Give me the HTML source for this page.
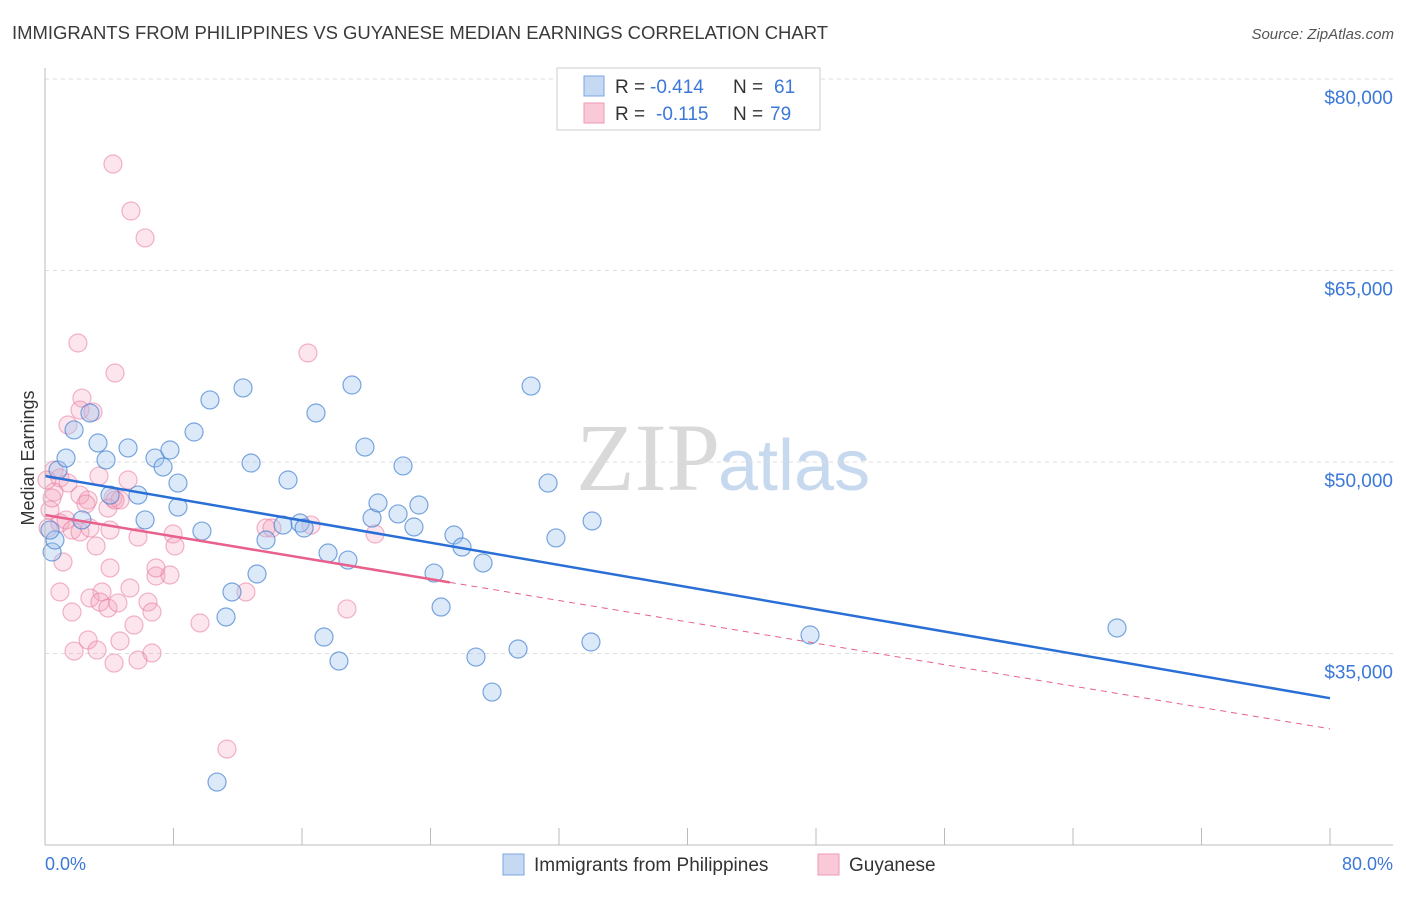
<!DOCTYPE html>
<html><head><meta charset="utf-8"><style>
body{margin:0;background:#fff;font-family:"Liberation Sans",sans-serif;}
</style></head><body>
<svg id="c" width="1406" height="892" xmlns="http://www.w3.org/2000/svg">
<text x="12" y="39" font-size="18.5" fill="#3a3a3a" textLength="816">IMMIGRANTS FROM PHILIPPINES VS GUYANESE MEDIAN EARNINGS CORRELATION CHART</text>
<text x="1394" y="39" font-size="15" fill="#555" font-style="italic" text-anchor="end">Source: ZipAtlas.com</text>
<text x="720" y="490" font-size="96" fill="#d9d9d9" text-anchor="end" font-family="Liberation Serif">ZIP</text>
<text x="718" y="490" font-size="72" fill="#c7d9ee">atlas</text>
<text x="34" y="458" font-size="18" fill="#333" text-anchor="middle" transform="rotate(-90 34 458)">Median Earnings</text>
<g id="grid"></g><g id="pts"></g><g id="lines"></g>
<line x1="45" y1="68" x2="45" y2="845" stroke="#bbb"/>
<line x1="45" y1="845" x2="1393" y2="845" stroke="#bbb"/>
<text x="45" y="870" font-size="18" fill="#3b78d8">0.0%</text>
<text x="1393" y="870" font-size="18" fill="#3b78d8" text-anchor="end">80.0%</text>
<g>
<rect x="557" y="68" width="263" height="62" fill="#fff" stroke="#ccc"/>
<rect x="584" y="76" width="20" height="20" fill="#c5d9f3" stroke="#7aa6e0"/>
<rect x="584" y="103" width="20" height="20" fill="#f9c9d8" stroke="#ee9ab5"/>
<text x="615" y="93" font-size="19" fill="#333">R =</text>
<text x="650" y="93" font-size="19" fill="#3b78d8">-0.414</text>
<text x="733" y="93" font-size="19" fill="#333">N =</text>
<text x="774" y="93" font-size="19" fill="#3b78d8">61</text>
<text x="615" y="120" font-size="19" fill="#333">R =</text>
<text x="656" y="120" font-size="19" fill="#3b78d8">-0.115</text>
<text x="733" y="120" font-size="19" fill="#333">N =</text>
<text x="770" y="120" font-size="19" fill="#3b78d8">79</text>
</g>
<g>
<rect x="503" y="854" width="21" height="21" fill="#c5d9f3" stroke="#7aa6e0"/>
<text x="534" y="871" font-size="19" fill="#333">Immigrants from Philippines</text>
<rect x="818" y="854" width="21" height="21" fill="#f9c9d8" stroke="#ee9ab5"/>
<text x="849" y="871" font-size="19" fill="#333">Guyanese</text>
</g>
</svg>
<script>
const yTicks=[35000,50000,65000,80000];
const yTickLabels=["$35,000","$50,000","$65,000","$80,000"];
const xTicks=[0,8,16,24,32,40,48,56,64,72,80];
const blueX=[0.81,1.31,1.81,2.80,3.30,3.80,5.17,6.85,7.35,7.78,8.28,9.28,10.27,12.33,12.83,15.13,16.87,19.11,19.92,22.29,30.26,31.32,2.30,4.05,5.79,6.23,8.28,9.77,13.20,11.64,11.27,13.76,14.82,15.88,16.13,17.62,18.86,20.36,20.73,21.98,22.97,23.28,25.46,25.96,27.27,24.22,24.66,34.06,31.81,26.83,27.83,29.45,33.99,17.37,18.30,10.71,47.63,66.74,0.44,0.62,0.31];
const blueY=[49.37,50.31,52.51,53.84,51.49,50.16,51.10,50.31,49.61,50.94,48.35,52.35,54.86,55.80,49.92,48.59,53.84,56.03,51.17,49.69,55.95,48.35,45.46,47.41,47.41,45.46,46.47,44.59,41.23,39.82,37.86,43.89,45.06,45.22,44.83,42.87,42.32,45.61,46.79,45.93,44.91,46.63,44.28,43.34,42.09,41.30,38.64,45.38,44.05,34.72,31.98,35.35,35.90,36.29,34.41,24.93,36.45,37.00,42.95,43.89,44.67];
const pinkX=[4.23,5.35,6.23,2.05,16.37,4.36,2.30,2.18,2.99,1.43,0.56,0.93,1.43,0.56,0.31,0.19,0.93,1.31,2.18,2.68,2.55,3.36,4.23,4.67,5.17,3.92,4.36,1.68,2.18,2.80,4.05,5.79,7.97,8.09,3.18,1.12,4.05,6.91,7.78,0.93,3.55,2.80,1.68,3.42,3.92,4.54,5.29,6.41,6.66,5.54,2.68,4.67,3.24,4.30,5.79,1.81,6.66,13.76,14.13,16.56,20.55,12.51,9.65,18.80,11.33,6.91,0.44,0.12];
const pinkY=[73.34,69.66,67.55,59.32,58.54,56.97,55.01,54.07,53.92,52.90,49.37,48.75,48.35,47.65,46.24,44.83,45.22,45.46,47.41,47.02,46.71,48.90,47.18,47.02,48.59,46.39,47.02,44.67,44.52,44.83,44.67,44.12,44.36,43.42,43.42,42.17,41.70,41.07,41.15,39.82,39.82,39.35,38.25,39.03,38.56,38.96,40.13,39.03,38.25,37.23,36.06,35.98,35.27,34.25,34.49,35.19,35.04,44.83,44.83,45.06,44.36,39.82,37.39,38.49,27.51,41.70,47.18,48.59];
const blueFit=[48.9,31.5];
const pinkFit=[45.85,29.1];
const pinkSolidEnd=25.2;
const NS="http://www.w3.org/2000/svg";
const X=v=>45+v/80*1285;
const Y=v=>79+(80000-v)/15000*191.5;
function mk(tag,attrs,parent){const e=document.createElementNS(NS,tag);for(const k in attrs)e.setAttribute(k,attrs[k]);document.getElementById(parent).appendChild(e);return e;}
yTicks.forEach((t,i)=>{
 const g=mk('line',{x1:45,x2:1393,y1:Y(t),y2:Y(t),stroke:'#ddd','stroke-dasharray':'4,4'},'grid');
 
 
 const l=mk('text',{x:1393,y:Y(t)+25,'font-size':19,fill:'#3b78d8','text-anchor':'end'},'grid');
 l.textContent=yTickLabels[i];
 
 
});
xTicks.forEach(t=>{
 const k=mk('line',{x1:X(t),x2:X(t),y1:828,y2:845,stroke:'#bbb'},'grid');
 
 
});
pinkX.forEach((x,i)=>{
 const c=mk('circle',{cx:X(x),cy:Y(pinkY[i]*1000),r:9,fill:'rgba(244,160,188,0.28)',stroke:'rgba(232,120,160,0.55)','stroke-width':1.2},'pts');
 
 
});
blueX.forEach((x,i)=>{
 const c=mk('circle',{cx:X(x),cy:Y(blueY[i]*1000),r:9,fill:'rgba(160,196,238,0.38)',stroke:'rgba(70,130,210,0.7)','stroke-width':1.2},'pts');
 
 
});
const pf=x=>pinkFit[0]+(pinkFit[1]-pinkFit[0])*x/80;
let a=mk('line',{x1:X(0),y1:Y(blueFit[0]*1000),x2:X(80),y2:Y(blueFit[1]*1000),stroke:'#2a6fd6','stroke-width':2.5},'lines');


let b=mk('line',{x1:X(0),y1:Y(pf(0)*1000),x2:X(pinkSolidEnd),y2:Y(pf(pinkSolidEnd)*1000),stroke:'#e8608c','stroke-width':2.5},'lines');


let d=mk('line',{x1:X(pinkSolidEnd),y1:Y(pf(pinkSolidEnd)*1000),x2:X(80),y2:Y(pf(80)*1000),stroke:'#e8608c','stroke-width':1,'stroke-dasharray':'6,5'},'lines');


</script>
</body></html>
